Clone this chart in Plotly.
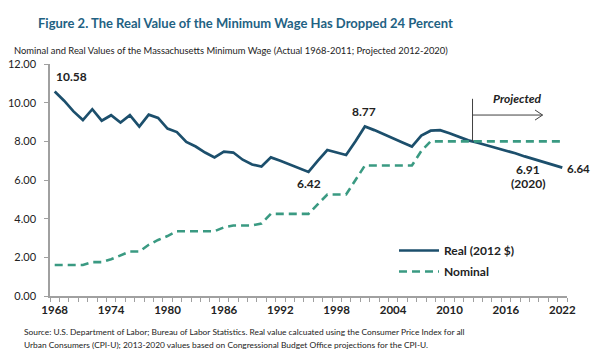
import plotly.graph_objects as go

years = list(range(1968, 2023))

real_2012 = [10.58, 10.10, 9.55, 9.10, 9.66, 9.07, 9.35, 8.97, 9.35, 8.76,
             9.38, 9.21, 8.66, 8.48, 7.97, 7.73, 7.42, 7.17, 7.47, 7.42,
             7.05, 6.80, 6.70, 7.17, 7.00, 6.82, 6.63, 6.42, 7.00, 7.55,
             7.42, 7.29, 8.00, 8.77, 8.58, 8.38, 8.16, 7.94, 7.73, 8.30,
             8.55, 8.58, 8.42, 8.22, 8.05, 7.93, 7.80, 7.65, 7.52, 7.38,
             7.22, 7.07, 6.91, 6.78, 6.64]

nominal = [1.60, 1.60, 1.60, 1.60, 1.75, 1.75, 1.90, 2.10, 2.30, 2.30,
           2.65, 2.90, 3.10, 3.35, 3.35, 3.35, 3.35, 3.35, 3.55, 3.65,
           3.65, 3.65, 3.75, 4.25, 4.25, 4.25, 4.25, 4.25, 4.75, 5.25,
           5.25, 5.25, 6.00, 6.75, 6.75, 6.75, 6.75, 6.75, 6.75, 7.50,
           8.00, 8.00, 8.00, 8.00, 8.00, 8.00, 8.00, 8.00, 8.00, 8.00,
           8.00, 8.00, 8.00, 8.00, 8.00]

x_tick_years = [1968, 1974, 1980, 1986, 1992, 1998, 2004, 2010, 2016, 2022]
y_ticks = [0, 2, 4, 6, 8, 10, 12]

REAL_C = "#1c4f6c"
NOM_C = "#3a9a82"
TITLE_C = "#1f6283"
FONT = "Lato, Liberation Sans, sans-serif"

fig = go.Figure()
fig.add_trace(go.Scatter(x=years, y=real_2012, mode="lines", name="<b>Real (2012 $)</b>",
                         line=dict(color=REAL_C, width=2.7), legendgroup="a"))
fig.add_trace(go.Scatter(x=years, y=nominal, mode="lines", name="<b>Nominal</b>",
                         line=dict(color=NOM_C, width=2.6, dash="8px,5px"), legendgroup="b"))

# page body has an 8px margin, so the figure is sized to fill 600x364 from (8,8)
OFF = 8
W, H = 600 - OFF, 364 - OFF
PL, PR, PT, PB = 50, 567, 64, 296          # plot area in page pixels
L, R, T, B = PL - OFF, 600 - PR, PT - OFF, 364 - PB
pw, ph = PR - PL, PB - PT

def px(xp):
    return (xp - PL) / pw

def py(yp):
    return (PB - yp) / ph

fig.update_layout(
    template="none",
    width=W, height=H,
    margin=dict(l=L, r=R, t=T, b=B, autoexpand=False),
    paper_bgcolor="white", plot_bgcolor="white",
    font=dict(family=FONT, size=12, color="#222"),
    showlegend=True,
    legend=dict(x=px(394), y=py(236), xanchor="left", yanchor="top",
                traceorder="grouped", tracegroupgap=2, itemwidth=40,
                font=dict(family=FONT, size=12, color="#222"),
                bgcolor="rgba(0,0,0,0)"),
    xaxis=dict(range=[1967.5, 2022.5], tickvals=x_tick_years,
               ticktext=[f"<b>{y}</b>" for y in x_tick_years],
               ticks="", showgrid=False, zeroline=False, automargin=False,
               showline=True, linecolor="#a0a0a0", linewidth=1.5,
               tickfont=dict(family=FONT, size=11.5, color="#222"),
               ticklabelstandoff=2,
               minor=dict(tick0=1967.5, dtick=1, ticks="outside", ticklen=4,
                          tickcolor="#a0a0a0", tickwidth=1, showgrid=False)),
    yaxis=dict(range=[0, 12], tickvals=y_ticks, tickformat=".2f",
               ticks="outside", ticklen=4, tickcolor="#a0a0a0",
               showgrid=False, zeroline=False, automargin=False,
               showline=True, linecolor="#a0a0a0", linewidth=1.5,
               tickfont=dict(family=FONT, size=11, color="#222"),
               ticklabelstandoff=6),
)

ann = []
ann.append(dict(text="<b>Figure 2. The Real Value of the Minimum Wage Has Dropped 24 Percent</b>",
                xref="paper", yref="paper", x=px(245), y=py(23), xanchor="center", yanchor="middle",
                showarrow=False, font=dict(family=FONT, size=13, color=TITLE_C)))
ann.append(dict(text="Nominal and Real Values of the Massachusetts Minimum Wage (Actual 1968-2011; Projected 2012-2020)",
                xref="paper", yref="paper", x=px(12), y=py(50), xanchor="left", yanchor="middle",
                showarrow=False, font=dict(family=FONT, size=9.4, color="#222")))
ann.append(dict(text="Source: U.S. Department of Labor; Bureau of Labor Statistics. Real value calcuated using the Consumer Price Index for all",
                xref="paper", yref="paper", x=px(22), y=py(332), xanchor="left", yanchor="middle",
                showarrow=False, font=dict(family=FONT, size=8.4, color="#222")))
ann.append(dict(text="Urban Consumers (CPI-U); 2013-2020 values based on Congressional Budget Office projections for the CPI-U.",
                xref="paper", yref="paper", x=px(22), y=py(344.5), xanchor="left", yanchor="middle",
                showarrow=False, font=dict(family=FONT, size=8.4, color="#222")))

lab_font = dict(family=FONT, size=12, color="#222")
ann.append(dict(text="<b>10.58</b>", x=1969.8, y=11.35, showarrow=False, font=lab_font))
ann.append(dict(text="<b>8.77</b>", x=2000.9, y=9.53, showarrow=False, font=lab_font))
ann.append(dict(text="<b>6.42</b>", x=1995.1, y=5.83, showarrow=False, font=lab_font))
ann.append(dict(text="<b>6.91</b>", x=2018.4, y=6.52, showarrow=False, font=lab_font))
ann.append(dict(text="<b>(2020)</b>", x=2018.4, y=5.8, showarrow=False, font=lab_font))
ann.append(dict(text="<b>6.64</b>", xref="paper", x=px(591), xanchor="right", y=6.62,
                showarrow=False, font=dict(family=FONT, size=11.5, color="#222"), borderpad=0))
ann.append(dict(text="<b><i>Projected</i></b>", x=2017.2, y=10.19, showarrow=False, font=lab_font))
fig.update_layout(annotations=ann)

arrow_c = "#404040"
shapes = [
    dict(type="line", x0=2012.45, x1=2012.45, y0=10.2, y1=8.02, line=dict(color=arrow_c, width=1)),
    dict(type="line", x0=2012.45, x1=2019.9, y0=9.36, y1=9.36, line=dict(color=arrow_c, width=1)),
    dict(type="line", x0=2019.1, x1=2019.9, y0=9.62, y1=9.36, line=dict(color=arrow_c, width=1)),
    dict(type="line", x0=2019.1, x1=2019.9, y0=9.10, y1=9.36, line=dict(color=arrow_c, width=1)),
]
fig.update_layout(shapes=shapes)

fig.write_html("out.html")
